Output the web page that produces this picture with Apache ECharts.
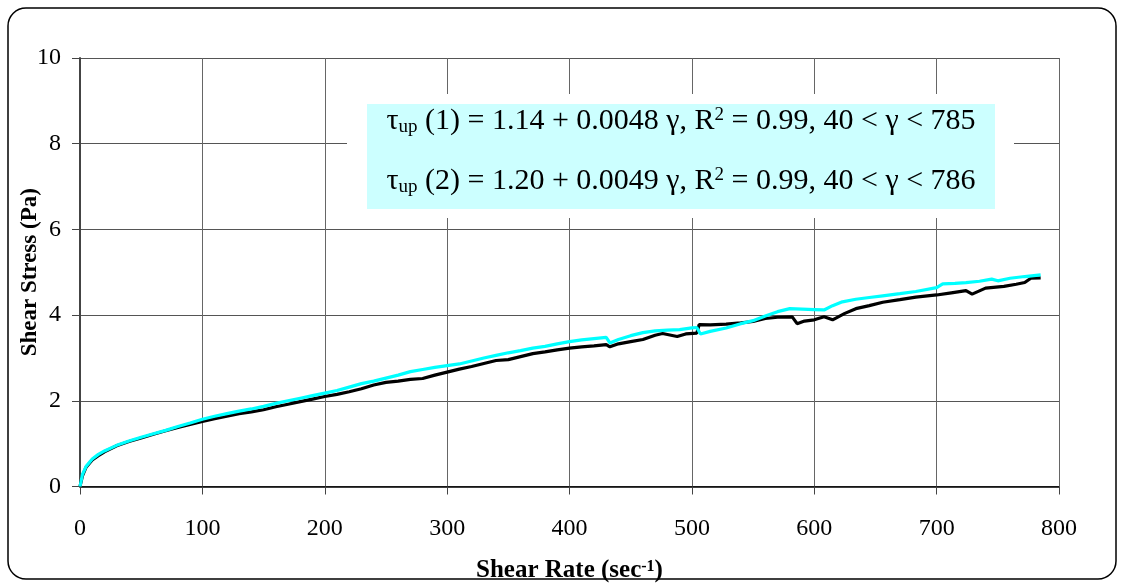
<!DOCTYPE html>
<html>
<head>
<meta charset="utf-8">
<title>Shear Stress vs Shear Rate</title>
<script src="https://cdn.jsdelivr.net/npm/echarts@6/dist/echarts.min.js"></script>
<style>
  html, body { margin: 0; padding: 0; background: #ffffff; }
  #chart { width: 1124px; height: 587px; }
</style>
</head>
<body>
<div id="chart"></div>
<script>
// Run 1 (black curve): shear rate (1/s) and shear stress (Pa)
const rate1 = [0, 2, 5, 10, 15, 20, 30, 40, 50, 60, 70, 80, 90, 100, 110, 120, 130, 140, 150, 160,
  170, 180, 190, 200, 210, 220, 230, 240, 250, 260, 270, 280, 290, 300, 310, 320, 330, 340, 350, 360,
  370, 380, 390, 400, 410, 420, 430, 433, 440, 450, 460, 470, 476, 488, 495, 504, 506, 515, 528, 540,
  550, 560, 570, 582, 586, 592, 600, 608, 615, 625, 634, 645, 656, 670, 683, 700, 712, 724, 729, 740,
  755, 765, 772, 777, 785];
const stress1 = [0.00, 0.25, 0.45, 0.62, 0.72, 0.81, 0.95, 1.05, 1.13, 1.22, 1.30, 1.38, 1.45, 1.52, 1.58, 1.64, 1.70, 1.74, 1.79, 1.86,
  1.92, 1.98, 2.04, 2.10, 2.15, 2.21, 2.28, 2.37, 2.43, 2.46, 2.50, 2.52, 2.60, 2.67, 2.74, 2.80, 2.87, 2.94, 2.96, 3.03,
  3.10, 3.14, 3.19, 3.23, 3.26, 3.28, 3.31, 3.26, 3.33, 3.38, 3.43, 3.53, 3.57, 3.50, 3.56, 3.58, 3.78, 3.77, 3.79, 3.82,
  3.85, 3.92, 3.95, 3.96, 3.80, 3.86, 3.89, 3.96, 3.89, 4.04, 4.15, 4.22, 4.30, 4.36, 4.42, 4.47, 4.52, 4.57, 4.49, 4.63,
  4.67, 4.72, 4.76, 4.86, 4.87];

// Run 2 (cyan curve)
const rate2 = [0, 2, 5, 10, 15, 20, 30, 40, 50, 60, 70, 80, 90, 100, 110, 120, 130, 140, 150, 160,
  170, 180, 190, 200, 210, 220, 230, 240, 250, 260, 270, 280, 290, 300, 310, 320, 330, 340, 350, 360,
  370, 380, 390, 400, 410, 420, 430, 433, 440, 450, 460, 470, 480, 490, 500, 504, 507, 515, 528, 540,
  550, 560, 570, 580, 590, 600, 608, 615, 623, 634, 645, 656, 670, 683, 700, 705, 715, 724, 735, 745,
  750, 760, 772, 785];
const stress2 = [0.00, 0.28, 0.47, 0.64, 0.75, 0.83, 0.96, 1.06, 1.15, 1.23, 1.31, 1.40, 1.48, 1.57, 1.64, 1.70, 1.76, 1.81, 1.87, 1.94,
  2.00, 2.06, 2.12, 2.18, 2.24, 2.32, 2.40, 2.46, 2.53, 2.60, 2.68, 2.73, 2.78, 2.82, 2.86, 2.93, 3.00, 3.06, 3.12, 3.17,
  3.23, 3.27, 3.33, 3.38, 3.42, 3.45, 3.48, 3.35, 3.43, 3.52, 3.59, 3.63, 3.65, 3.66, 3.70, 3.71, 3.56, 3.62, 3.70, 3.80,
  3.87, 3.98, 4.08, 4.15, 4.14, 4.13, 4.12, 4.22, 4.31, 4.37, 4.41, 4.45, 4.50, 4.55, 4.64, 4.73, 4.74, 4.76, 4.79, 4.84,
  4.80, 4.86, 4.90, 4.94];

// Linear fits shown in the annotation box
const fitLines = [
  '{tau|τ}{sub|up} (1) = 1.14 + 0.0048 γ, R{sup|2} = 0.99, 40 < γ < 785',
  '{tau|τ}{sub|up} (2) = 1.20 + 0.0049 γ, R{sup|2} = 0.99, 40 < γ < 786'
];

const xTitle = 'Shear Rate (sec{sup|-1})';
const yTitle = 'Shear Stress (Pa)';

const serif = '"Liberation Serif", "Times New Roman", serif';

function pairs(xs, ys) {
  return xs.map((x, i) => [x, ys[i]]);
}

const richText = {
  tau: { fontFamily: serif, fontSize: 30, fill: '#000', color: '#000' },
  sub: { fontFamily: serif, fontSize: 19, verticalAlign: 'bottom', fill: '#000', color: '#000', padding: [12, 0, 0, 0] },
  sup: { fontFamily: serif, fontSize: 19, lineHeight: 20, verticalAlign: 'top', fill: '#000', color: '#000' }
};

const chart = echarts.init(document.getElementById('chart'), null, { renderer: 'canvas' });

chart.setOption({
  animation: false,
  backgroundColor: '#ffffff',
  grid: { left: 80, right: 65, top: 58, bottom: 100.5, containLabel: false, outerBoundsMode: 'none' },
  xAxis: {
    type: 'value',
    min: 0, max: 800, interval: 100,
    name: xTitle,
    nameLocation: 'middle',
    nameGap: 72,
    nameMoveOverlap: false,
    nameTextStyle: {
      fontFamily: serif, fontSize: 25, fontWeight: 'bold', color: '#000',
      rich: { sup: { fontFamily: serif, fontSize: 16, lineHeight: 12, fontWeight: 'bold', verticalAlign: 'top', color: '#000' } }
    },
    axisLine: { show: true, onZero: false, lineStyle: { color: '#000', width: 1.5 } },
    axisTick: { show: true, inside: false, length: 8, lineStyle: { color: '#444', width: 1 } },
    axisLabel: { fontFamily: serif, fontSize: 24, color: '#000', margin: 30 },
    splitLine: { show: true, lineStyle: { color: '#666', width: 1 } }
  },
  yAxis: {
    type: 'value',
    min: 0, max: 10, interval: 2,
    name: yTitle,
    nameLocation: 'middle',
    nameGap: 38,
    nameMoveOverlap: false,
    nameTextStyle: { fontFamily: serif, fontSize: 23, fontWeight: 'bold', color: '#000' },
    axisLine: { show: true, onZero: false, lineStyle: { color: '#444', width: 2 } },
    axisTick: { show: true, inside: false, length: 8, lineStyle: { color: '#444', width: 1 } },
    axisLabel: { fontFamily: serif, fontSize: 24, color: '#000', margin: 19 },
    splitLine: { show: true, lineStyle: { color: '#555', width: 1 } }
  },
  series: [
    {
      name: 'Run 1', type: 'line', data: pairs(rate1, stress1),
      showSymbol: false, symbol: 'none', smooth: false,
      lineStyle: { color: '#000000', width: 3.2 }, z: 3
    },
    {
      name: 'Run 2', type: 'line', data: pairs(rate2, stress2),
      showSymbol: false, symbol: 'none', smooth: false,
      lineStyle: { color: '#00ffff', width: 3.2 }, z: 4
    }
  ],
  graphic: [
    {
      type: 'rect', z: -10, silent: true,
      shape: { x: 8, y: 8, width: 1108, height: 571, r: 18 },
      style: { fill: 'none', stroke: '#000', lineWidth: 1.5 }
    },
    {
      type: 'rect', z: 50, silent: true,
      shape: { x: 347, y: 94, width: 667, height: 124 },
      style: { fill: '#ffffff' }
    },
    {
      type: 'rect', z: 51, silent: true,
      shape: { x: 367, y: 104, width: 628, height: 105 },
      style: { fill: '#ccffff' }
    },
    {
      type: 'text', z: 52, silent: true,
      x: 681, y: 121,
      style: {
        text: fitLines[0], rich: richText,
        font: '30px ' + serif, fill: '#000',
        align: 'center', verticalAlign: 'middle'
      }
    },
    {
      type: 'text', z: 52, silent: true,
      x: 681, y: 181,
      style: {
        text: fitLines[1], rich: richText,
        font: '30px ' + serif, fill: '#000',
        align: 'center', verticalAlign: 'middle'
      }
    }
  ]
});
</script>
</body>
</html>
